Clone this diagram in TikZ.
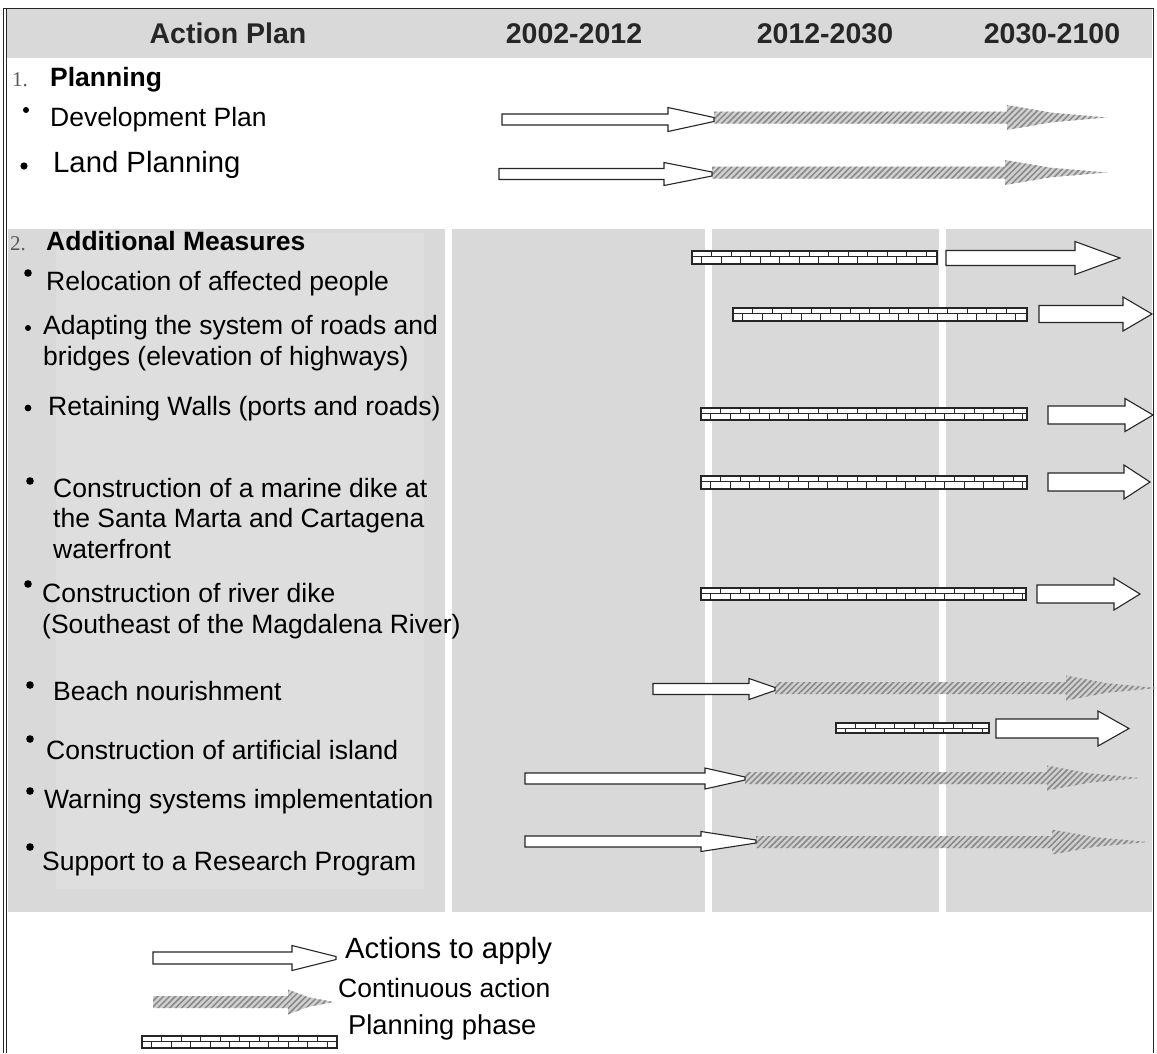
\documentclass[tikz,border=0pt]{standalone}
\usepackage{fontspec}
\setmainfont{Liberation Sans}
\newfontfamily\numfont{Liberation Serif}
\usetikzlibrary{patterns.meta}
\definecolor{bggray}{RGB}{217,217,217}
\definecolor{ingray}{RGB}{222,222,222}
\definecolor{hatchbg}{RGB}{208,208,208}
\definecolor{hatchfg}{RGB}{135,135,135}
% white outlined arrow: x0, x head, x tip, centre y, shaft half, head half, tip half
\newcommand{\whitearrow}[7]{%
  \draw[warrow] (#1,#4-#5) -- (#2,#4-#5) -- (#2,#4-#6) -- (#3,#4-#7) -- (#3,#4+#7)
    -- (#2,#4+#6) -- (#2,#4+#5) -- (#1,#4+#5) -- cycle;}
% hatched arrow: x0, x head, x end, centre y, shaft half, head half
\newcommand{\hatcharrow}[6]{%
  \path[harrow] (#1,#4-#5) -- (#2,#4-#5) -- (#2,#4-#6)
    -- ({#2+0.45*(#3-#2)},{#4-0.38*#6}) -- (#3,#4)
    -- ({#2+0.45*(#3-#2)},{#4+0.38*#6}) -- (#2,#4+#6) -- (#2,#4+#5) -- (#1,#4+#5) -- cycle;}
% brick bar: x0, x1, y top, y bottom
\newcommand{\brickbar}[4]{%
  \fill[white] (#1,#3) rectangle (#2,#4);
  \pgfmathsetmacro{\bkmid}{#3+5}
  \pgfmathsetmacro{\bkA}{#1+19.5}
  \pgfmathsetmacro{\bkAA}{#1+39}
  \pgfmathsetmacro{\bkB}{#1+9.75}
  \pgfmathsetmacro{\bkBB}{#1+29.25}
  \pgfmathsetmacro{\bkE}{#2-3}
  \foreach \bx in {\bkA,\bkAA,...,\bkE} \draw[brick] (\bx,#3) -- (\bx,\bkmid);
  \foreach \bx in {\bkB,\bkBB,...,\bkE} \draw[brick] (\bx,\bkmid) -- (\bx,#4);
  \draw[brick] (#1,\bkmid) -- (#2,\bkmid);
  \draw[brickframe] (#1,#3) rectangle (#2,#4);
}
\begin{document}
\begin{tikzpicture}[x=1pt,y=-1pt,
  warrow/.style={draw=black!85,line width=1.1pt,fill=white,line join=miter},
  harrow/.style={preaction={fill=hatchbg},pattern={Lines[angle=45,distance=4.2pt,line width=1.5pt]},pattern color=hatchfg},
  brick/.style={draw=black!85,line width=0.8pt},
  brickframe/.style={draw=black!85,line width=1.1pt},
  hd/.style={font=\bfseries\fontsize{28.5}{32}\selectfont,anchor=base,inner sep=0,text=black!85},
  sec/.style={font=\bfseries\fontsize{26.5}{30}\selectfont,anchor=base west,inner sep=0},
  txt/.style={font=\fontsize{26.5}{30}\selectfont,anchor=base west,inner sep=0},
  bigtxt/.style={font=\fontsize{29.3}{33}\selectfont,anchor=base west,inner sep=0},
  numlbl/.style={font=\numfont\fontsize{21}{24}\selectfont,anchor=base west,inner sep=0,text=black!65}]
\useasboundingbox (0,0) rectangle (1157,1053);
\fill[white] (0,0) rectangle (1157,1053);
% header band
\fill[bggray] (6,9) rectangle (1152,58);
% section 2 background columns
\fill[bggray] (8,229) rectangle (445,912);
\fill[bggray] (452,229) rectangle (705,912);
\fill[bggray] (712,229) rectangle (939,912);
\fill[bggray] (946,229) rectangle (1152,912);
\fill[ingray] (56,233) rectangle (424,889);
% frame
\draw[line width=0.9pt,black!85] (3,8) -- (1153,8);
\draw[line width=0.9pt,black!85] (3,8) -- (3,1053);
\draw[line width=0.7pt,black!85] (6.5,8) -- (6.5,1053);
\draw[line width=0.9pt,black!85] (1153,8) -- (1153,1053);
% header texts
\node[hd] (hAP) at (228,43.5) {Action Plan};
\node[hd] (hA) at (574,43.5) {2002-2012};
\node[hd] (hB) at (825,43.5) {2012-2030};
\node[hd] (hC) at (1052,43.5) {2030-2100};
% section 1
\node[numlbl] (n1) at (12,86.5) {1.};
\node[sec] (s1) at (50,86.5) {Planning};
\fill (26,110) circle (3);
\node[txt] (t1) at (50,126.5) {Development Plan};
\fill (24,166) circle (3.6);
\node[bigtxt] (t2) at (53,172.5) {Land Planning};
% section 2
\node[numlbl] (n2) at (10,250) {2.};
\node[sec] (s2) at (46,250) {Additional Measures};
\fill (28,273) circle (3.8);
\node[txt] (t3) at (46,290) {Relocation of affected people};
\fill (28,328) circle (3);
\node[txt] (t4a) at (43,334.5) {Adapting the system of roads and};
\node[txt] (t4b) at (43,365.5) {bridges (elevation of highways)};
\fill (28,408) circle (3.4);
\node[txt] (t5) at (48,415.5) {Retaining Walls (ports and roads)};
\fill (30,481) circle (3.8);
\node[txt] (t6a) at (53,497.5) {Construction of a marine dike at};
\node[txt] (t6b) at (53,527.5) {the Santa Marta and Cartagena};
\node[txt] (t6c) at (53,558.5) {waterfront};
\fill (28,584) circle (3.8);
\node[txt] (t7a) at (42,602.5) {Construction of river dike};
\node[txt] (t7b) at (42,633.5) {(Southeast of the Magdalena River)};
\fill (30,685) circle (3.8);
\node[txt] (t8) at (53,700.5) {Beach nourishment};
\fill (30,739) circle (3.8);
\node[txt] (t9) at (46,759.5) {Construction of artificial island};
\fill (30,791) circle (3.8);
\node[txt] (t10) at (44,808.5) {Warning systems implementation};
\fill (30,847) circle (3.8);
\node[txt] (t11) at (42,870.5) {Support to a Research Program};
% section 1 arrows
\hatcharrow{714}{1007}{1107}{117.5}{6}{12.5}
\whitearrow{502}{668}{714}{119.5}{5.5}{12}{2}
\hatcharrow{712}{1005}{1107}{172.5}{6}{12.5}
\whitearrow{499}{664}{712}{174}{5.5}{11.5}{2}
% section 2 bars and arrows
\brickbar{692}{937}{251}{264}
\whitearrow{946}{1075}{1120}{258}{7.5}{16.5}{0}
\brickbar{733}{1027}{308}{321}
\whitearrow{1039}{1123}{1152}{314}{8.5}{17}{0}
\brickbar{701}{1027}{408}{420}
\whitearrow{1048}{1125}{1153}{415}{9}{16.5}{0}
\brickbar{701}{1027}{476}{489}
\whitearrow{1048}{1124}{1150}{482}{9}{17}{0}
\brickbar{701}{1026}{588}{600}
\whitearrow{1037}{1114}{1140}{594}{9}{16}{0}
\hatcharrow{775}{1066}{1157}{688}{6}{12.5}
\whitearrow{653}{749}{775}{689}{5.5}{10.5}{1.5}
\brickbar{836}{989}{723}{733}
\whitearrow{996}{1098}{1129}{728.5}{9.5}{17.5}{0}
\hatcharrow{745}{1047}{1140}{778}{6}{12.5}
\whitearrow{525}{705}{745}{778.5}{5.5}{10.5}{1.5}
\hatcharrow{756}{1052}{1148}{842}{6}{12.5}
\whitearrow{525}{701}{756}{841.5}{5.5}{10}{1.5}
% legend
\whitearrow{153}{292}{336}{958}{6}{12.5}{1.5}
\node[bigtxt] (l1) at (345,958.5) {Actions to apply};
\hatcharrow{153}{288}{334}{1002}{6}{12.5}
\node[txt] (l2) at (338,997.5) {Continuous action};
\brickbar{142}{337}{1036}{1048}
\node[txt,font=\fontsize{27.3}{31}\selectfont] (l3) at (348,1034) {Planning phase};
\end{tikzpicture}
\end{document}
